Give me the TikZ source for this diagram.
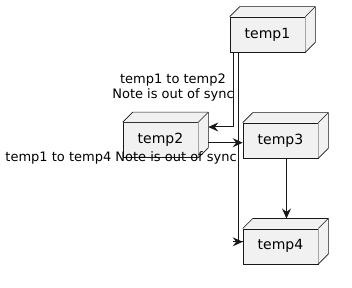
\documentclass[tikz,border=0pt]{standalone}
\usepackage{fontspec}
\setmainfont{DejaVu Sans}
\usetikzlibrary{arrows.meta}
\definecolor{nodefill}{HTML}{F1F1F1}
\definecolor{nodeline}{HTML}{181818}
\tikzset{
  nodebox/.style={draw=nodeline, fill=nodefill, line width=0.6pt, minimum width=75pt, minimum height=35pt,
    inner sep=0pt, font=\fontsize{14}{16}\selectfont},
  edge/.style={draw=nodeline, line width=1pt},
  arr/.style={edge, -{Stealth[length=10pt, width=9pt, inset=3.5pt]}},
  elabel/.style={font=\fontsize{13}{15}\selectfont, inner sep=0pt, align=center}
}
\newcommand{\boxdepth}[1]{%
  \fill[nodefill]
    (#1.north west) -- ([shift={(10pt,10pt)}]#1.north west) -- ([shift={(10pt,10pt)}]#1.north east)
    -- ([shift={(10pt,10pt)}]#1.south east) -- (#1.south east) -- (#1.north east) -- cycle;
  \draw[draw=nodeline, line width=0.6pt, line join=round]
    (#1.north west) -- ([shift={(10pt,10pt)}]#1.north west) -- ([shift={(10pt,10pt)}]#1.north east)
    -- ([shift={(10pt,10pt)}]#1.south east) -- (#1.south east);
  \draw[draw=nodeline, line width=0.6pt] (#1.north east) -- ([shift={(10pt,10pt)}]#1.north east);
}
\begin{document}
\begin{tikzpicture}[x=1pt, y=-1pt]
\useasboundingbox (0,0) rectangle (352,288);
\node[nodebox] (t1) at (267.5,34.5) {temp1};
\boxdepth{t1}
\node[nodebox] (t2) at (160.5,140) {temp2};
\boxdepth{t2}
\node[nodebox] (t3) at (280.5,140.5) {temp3};
\boxdepth{t3}
\node[nodebox] (t4) at (280.5,246.3) {temp4};
\boxdepth{t4}
% temp1 -> temp2
\draw[arr] ([xshift=4pt]t1.south west) |- ([xshift=10pt,yshift=13pt]t2.east);
% temp1 -> temp4
\draw[edge] ([xshift=9pt]t1.south west) |- ([yshift=4.5pt]t4.west);
\draw[arr] ([xshift=-10pt,yshift=4.5pt]t4.west) -- ([yshift=4.5pt]t4.west);
% temp2 -> temp3
\draw[arr] ([xshift=10pt,yshift=-2.7pt]t2.east) -- ([yshift=-2.2pt]t3.west);
% temp3 -> temp4
\draw[arr] ([xshift=6pt]t3.south) -- ([xshift=6pt,yshift=10pt]t4.north);
% labels
\node[elabel] (l1) at (173,87.5) {temp1 to temp2\\Note is out of sync};
\node[elabel, anchor=east] (l2) at (237,157.5) {temp1 to temp4 Note is out of sync};
\end{tikzpicture}
\end{document}
